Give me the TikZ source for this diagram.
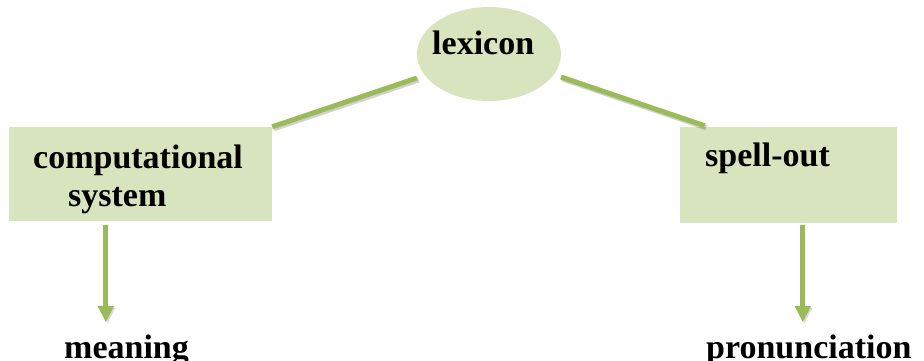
\documentclass[tikz,border=0pt]{standalone}
\usepackage{fontspec}
\setmainfont{Liberation Serif}
\usetikzlibrary{arrows.meta,shapes.geometric,calc}
\definecolor{lgreen}{HTML}{9BBB59}
\definecolor{lfill}{HTML}{D7E4BD}
\begin{document}
\begin{tikzpicture}[x=1pt,y=-1pt,
  boxstyle/.style={fill=lfill,draw=none,rectangle,inner sep=0pt},
  ovalstyle/.style={fill=lfill,draw=none,ellipse,inner sep=0pt,minimum width=144pt,minimum height=94pt},
  lbl/.style={font=\fontsize{34}{40}\selectfont\bfseries,inner sep=0pt,anchor=base west},
  conn/.style={draw=lgreen,line width=5pt,
    preaction={draw=black,opacity=0.18,line width=5pt,transform canvas={shift={(1.5pt,-2pt)}}}},
  arr/.style={draw=lgreen,line width=5pt,-{Triangle[width=15pt,length=16pt]},
    preaction={draw=black,opacity=0.15,transform canvas={shift={(1.5pt,-1.5pt)}}}}]
\useasboundingbox (0,0) rectangle (924,361);
% shapes
\node[ovalstyle] (lex) at (489,54) {};
\node[boxstyle,minimum width=263pt,minimum height=94pt] (cs) at (140.5,174) {};
\node[boxstyle,minimum width=217pt,minimum height=96pt] (sp) at (788.5,175) {};
% texts
\node[lbl] (lext) at (432,55) {lexicon};
\node[lbl] (cst1) at (33,168) {computational};
\node[lbl] (cst2) at (68,206) {system};
\node[lbl] (spt) at (705,166) {spell-out};
\node[lbl] (mean) at (64,358) {meaning};
\node[lbl] (pron) at (706,358) {pronunciation};
% connector endpoints
\coordinate (csTop) at (cs.north east);
\coordinate (lexL) at ($(lex.center)+(-72,24)$);
\coordinate (lexR) at ($(lex.center)+(72,23)$);
\coordinate (spTop) at ($(sp.north west)+(25,-1)$);
\coordinate (csBot) at ($(cs.south west)+(97,4)$);
\coordinate (spBot) at ($(sp.south west)+(123,2)$);
\coordinate (meanTop) at ($(mean.north west)+(42,-12)$);
\coordinate (pronTop) at ($(pron.north west)+(97,-12)$);
\path[conn] (csTop) -- (lexL);
\path[conn] (lexR) -- (spTop);
\path[arr] (csBot) -- (csBot |- meanTop);
\path[arr] (spBot) -- (spBot |- pronTop);
\end{tikzpicture}
\end{document}
